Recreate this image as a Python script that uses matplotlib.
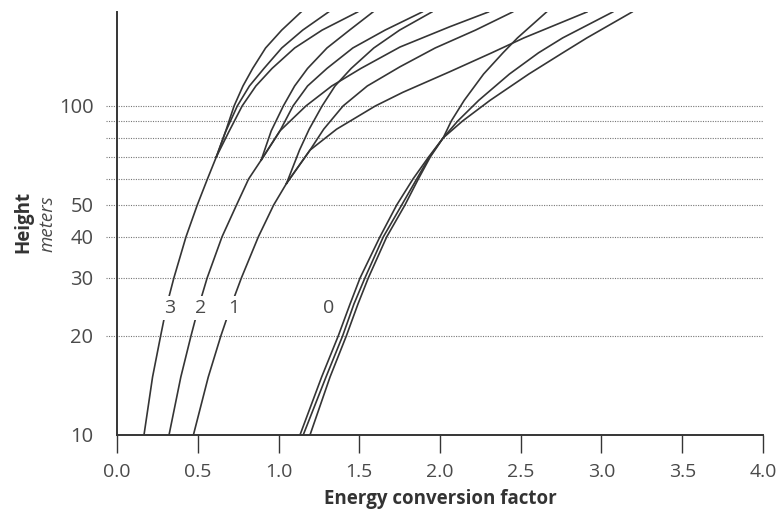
import matplotlib
matplotlib.use("Agg")
import matplotlib.pyplot as plt
from matplotlib.ticker import NullLocator

# heights (m) and energy conversion factors
# roughness class 3
c3_low_h = [10, 15, 20, 25, 30, 40, 50, 60, 70]
c3_low_x = [0.167, 0.22, 0.27, 0.31, 0.352, 0.427, 0.497, 0.56, 0.615]
c3a_h = [70, 83, 100, 115, 130, 150, 170, 193]
c3a_x = [0.615, 0.67, 0.725, 0.78, 0.84, 0.92, 1.02, 1.14]
c3b_h = [70, 83, 100, 115, 130, 150, 170, 193]
c3b_x = [0.615, 0.67, 0.745, 0.82, 0.91, 1.02, 1.15, 1.31]
c3c_h = [70, 83, 100, 115, 130, 150, 170, 193]
c3c_x = [0.615, 0.69, 0.775, 0.86, 0.96, 1.10, 1.27, 1.49]

# roughness class 2
c2_low_h = [10, 15, 20, 25, 30, 40, 50, 60, 68.5]
c2_low_x = [0.322, 0.395, 0.458, 0.51, 0.558, 0.65, 0.74, 0.815, 0.893]
c2a_h = [68.5, 84, 100, 115, 130, 150, 170, 193]
c2a_x = [0.893, 0.955, 1.03, 1.10, 1.18, 1.30, 1.44, 1.585]
c2b_h = [68.5, 84, 100, 115, 130, 150, 170, 193]
c2b_x = [0.893, 1.009, 1.09, 1.18, 1.30, 1.46, 1.66, 1.89]
c2c_h = [68.5, 84, 100, 115, 130, 151, 174, 193]
c2c_x = [0.893, 1.009, 1.17, 1.33, 1.51, 1.752, 2.06, 2.30]

# roughness class 1
c1_low_h = [10, 15, 20, 25, 30, 40, 50, 58.2]
c1_low_x = [0.473, 0.565, 0.643, 0.71, 0.77, 0.875, 0.97, 1.05]
c1a_h = [58.2, 73.4, 85, 100, 115, 130, 150, 170, 193]
c1a_x = [1.05, 1.13, 1.19, 1.27, 1.35, 1.45, 1.59, 1.75, 1.95]
c1b_h = [58.2, 73.4, 85, 100, 115, 131.5, 150, 170, 193]
c1b_x = [1.05, 1.195, 1.28, 1.40, 1.55, 1.752, 1.97, 2.22, 2.45]
c1c_h = [58.2, 73.4, 85, 100, 110, 127, 145, 161, 193]
c1c_x = [1.05, 1.195, 1.36, 1.60, 1.77, 2.06, 2.32, 2.52, 2.91]

# roughness class 0
c0_h = [10, 15, 20, 25, 30, 40, 50, 60, 70, 80, 90, 104, 125, 145, 161, 193]
c0a_x = [1.195, 1.319, 1.42, 1.492, 1.556, 1.67, 1.783, 1.866, 1.94, 2.02, 2.07, 2.15,
         2.27, 2.39, 2.48, 2.66]
c0b_x = [1.153, 1.294, 1.397, 1.467, 1.535, 1.649, 1.763, 1.856, 1.935, 2.02, 2.11, 2.24,
         2.43, 2.61, 2.76, 3.07]
c0c_x = [1.133, 1.267, 1.37, 1.443, 1.505, 1.628, 1.732, 1.833, 1.93, 2.02, 2.14, 2.31,
         2.55, 2.76, 2.91, 3.19]

class_labels = ["3", "2", "1", "0"]
label_x = [0.324, 0.517, 0.720, 1.309]
label_h = 24.3

grid_heights = [20, 30, 40, 50, 60, 70, 80, 90, 100]
ytick_vals = [10, 20, 30, 40, 50, 100]
xtick_vals = [0.0, 0.5, 1.0, 1.5, 2.0, 2.5, 3.0, 3.5, 4.0]

plt.rcParams['font.family'] = ['Open Sans', 'DejaVu Sans']
ink = '#353535'
txt = '#4a4a4a'

fig = plt.figure(figsize=(7.76, 5.16), dpi=100)
ax = fig.add_axes([0.1508, 0.157, 0.8324, 0.8198])
ax.set_yscale('log')
ax.set_xlim(0, 4.0)
ax.set_ylim(10, 193)

# dotted height guides, running a little past the axis on the left
for h in grid_heights:
    ax.plot([-0.068, 4.0], [h, h], linestyle=(0, (1, 1.2)), color='#777777',
            linewidth=0.8, clip_on=False, zorder=1)

curves = [
    (c3_low_x, c3_low_h), (c3a_x, c3a_h), (c3b_x, c3b_h), (c3c_x, c3c_h),
    (c2_low_x, c2_low_h), (c2a_x, c2a_h), (c2b_x, c2b_h), (c2c_x, c2c_h),
    (c1_low_x, c1_low_h), (c1a_x, c1a_h), (c1b_x, c1b_h), (c1c_x, c1c_h),
    (c0a_x, c0_h), (c0b_x, c0_h), (c0c_x, c0_h),
]
for xs, hs in curves:
    ax.plot(xs, hs, color=ink, lw=1.2, zorder=2, solid_joinstyle='round')

for lab, lx in zip(class_labels, label_x):
    ax.text(lx, label_h, lab, ha='center', va='center', fontsize=14, color=txt,
            zorder=3, bbox=dict(facecolor='white', edgecolor='none', pad=2))

for side in ('top', 'right'):
    ax.spines[side].set_visible(False)
for side in ('left', 'bottom'):
    ax.spines[side].set_color(ink)
    ax.spines[side].set_linewidth(1.4)

ax.set_xticks(xtick_vals)
ax.set_xticklabels([f"{v:.1f}" for v in xtick_vals])
ax.tick_params(axis='x', direction='out', length=13, width=1.0, color=ink,
               labelsize=14, labelcolor=txt, pad=7)
ax.set_yticks(ytick_vals)
ax.set_yticklabels([str(v) for v in ytick_vals])
ax.yaxis.set_minor_locator(NullLocator())
ax.tick_params(axis='y', length=0, labelsize=14.5, labelcolor=txt, pad=17)

ax.set_xlabel('Energy conversion factor', fontsize=13.5, fontweight='bold', color='#333333',
              labelpad=6)
fig.text(0.030, 0.57, 'Height', rotation=90, ha='center', va='center', fontsize=13.5,
         fontweight='bold', color='#333333')
fig.text(0.061, 0.566, 'meters', rotation=90, ha='center', va='center', fontsize=13.5,
         style='italic', color=txt)

fig.savefig('out.png', dpi=100)
